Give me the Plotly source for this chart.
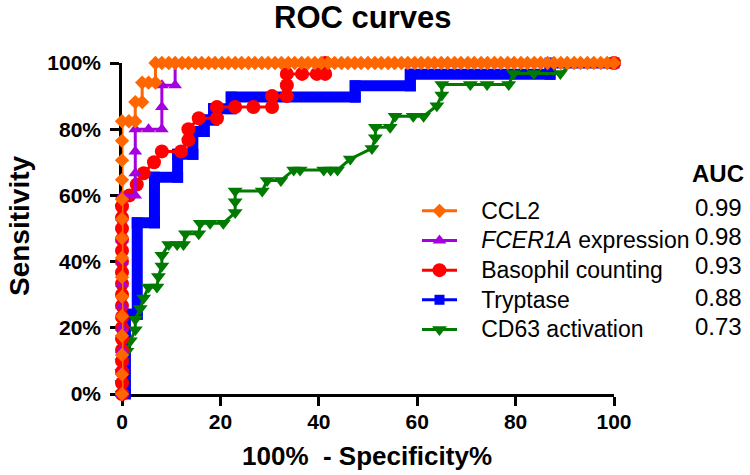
import plotly.graph_objects as go

# ---------------- data ----------------
series_names = ["CCL2", "<i>FCER1A</i> expression", "Basophil counting", "Tryptase", "CD63 activation"]
auc_values = ["0.99", "0.98", "0.93", "0.88", "0.73"]

x_tick_vals = [0, 20, 40, 60, 80, 100]
y_tick_vals = [0, 20, 40, 60, 80, 100]
y_tick_text = ["0%", "20%", "40%", "60%", "80%", "100%"]

ccl2_x = [0, 0, 0, 0, 0, 0, 0, 0, 0, 0, 0, 0, 0, 0, 0, 1.4, 2.7, 2.7, 4.1, 4.1, 5.4, 6.8, 6.8,
          8.1, 9.5, 10.8, 12.2, 13.5, 14.9, 16.2, 17.6, 18.9, 20.3, 21.6, 23.0, 24.3, 25.7, 27.0,
          28.4, 29.7, 31.1, 32.4, 33.8, 35.1, 36.5, 37.8, 39.2, 40.5, 41.9, 43.2, 44.6, 45.9, 47.3,
          48.6, 50.0, 51.4, 52.7, 54.1, 55.4, 56.8, 58.1, 59.5, 60.8, 62.2, 63.5, 64.9, 66.2, 67.6,
          68.9, 70.3, 71.6, 73.0, 74.3, 75.7, 77.0, 78.4, 79.7, 81.1, 82.4, 83.8, 85.1, 86.5, 87.8,
          89.2, 90.5, 91.9, 93.2, 94.6, 95.9, 97.3, 98.6, 100]
ccl2_y = [0, 5.9, 11.8, 17.6, 23.5, 29.4, 35.3, 41.2, 47.1, 52.9, 58.8, 64.7, 70.6, 76.5, 82.4,
          82.4, 82.4, 88.2, 88.2, 94.1, 94.1, 94.1, 100,
          100, 100, 100, 100, 100, 100, 100, 100, 100, 100, 100, 100, 100, 100, 100,
          100, 100, 100, 100, 100, 100, 100, 100, 100, 100, 100, 100, 100, 100, 100,
          100, 100, 100, 100, 100, 100, 100, 100, 100, 100, 100, 100, 100, 100, 100,
          100, 100, 100, 100, 100, 100, 100, 100, 100, 100, 100, 100, 100, 100, 100,
          100, 100, 100, 100, 100, 100, 100, 100, 100]

fcer1a_x = [0, 0, 0, 0, 0, 0, 0, 0, 0, 0, 2.7, 2.7, 2.7, 2.7, 5.4, 8.1, 8.1, 8.1, 10.8, 10.8,
            13.5, 16.2, 18.9, 21.6, 24.3, 27.0, 29.7, 32.4, 35.1, 37.8, 40.5, 43.2, 45.9, 48.6,
            51.4, 54.1, 56.8, 59.5, 62.2, 64.9, 67.6, 70.3, 73.0, 75.7, 78.4, 81.1, 83.8, 86.5,
            89.2, 91.9, 94.6, 97.3, 100]
fcer1a_y = [0, 6.7, 13.3, 20, 26.7, 33.3, 40, 46.7, 53.3, 60, 60, 66.7, 73.3, 80, 80, 80, 86.7,
            93.3, 93.3, 100,
            100, 100, 100, 100, 100, 100, 100, 100, 100, 100, 100, 100, 100, 100,
            100, 100, 100, 100, 100, 100, 100, 100, 100, 100, 100, 100, 100, 100,
            100, 100, 100, 100, 100]

baso_x = [0, 0, 0, 0, 0, 0, 0, 0, 0, 0, 0, 0, 0, 0, 0, 0, 0, 0,
          1.5, 3.0, 4.4, 6.5, 8.1, 12.0, 13.5, 13.5, 15.6, 19.3, 19.3, 23.0, 26.7, 30.5, 30.5,
          33.5, 33.5, 33.5, 36.6, 39.6, 41.3, 41.3, 100]
baso_y = [0, 3.3, 6.7, 10, 13.3, 16.7, 20, 23.3, 26.7, 30, 33.3, 36.7, 40, 43.3, 46.7, 50, 53.3, 56.7,
          60, 63.3, 66.7, 70, 73.3, 73.3, 76.7, 80, 83.3, 83.3, 86.7, 86.7, 86.7, 86.7, 90,
          90, 93.3, 96.7, 96.7, 96.7, 96.7, 100, 100]

tryp_x = [0.7, 0.7, 3.1, 3.1, 6.6, 6.6, 11.3, 11.3, 14.4, 14.4, 16.7, 16.7, 18.6, 18.6, 22.2, 22.2,
          47.4, 47.4, 58.6, 58.6, 87, 87, 100]
tryp_y = [0, 24.1, 24.1, 51.7, 51.7, 65.5, 65.5, 72.4, 72.4, 79.3, 79.3, 82.8, 82.8, 86.2, 86.2, 89.7,
          89.7, 93.1, 93.1, 96.6, 96.6, 100, 100]

cd63_x = [0, 0, 0, 0, 1.0, 1.7, 2.7, 2.7, 3.7, 4.4, 5.4, 7.1, 7.4, 8.1, 8.1, 9.5, 11.2, 12.5, 12.9,
          15.6, 15.9, 17.9, 20.6, 23.0, 23.0, 23.0, 28.5, 29.5, 32.3, 34.9, 36.2, 41.0, 42.4, 43.8,
          46.4, 50.8, 51.5, 51.5, 54.5, 55.5, 59.2, 61.3, 64.0, 65.0, 65.0, 70.8, 74.2, 78.6, 79.6,
          83.7, 89.1, 91.8, 100]
cd63_y = [0, 3.2, 6.5, 9.7, 12.9, 16.1, 19.4, 22.6, 25.8, 29.0, 32.3, 32.3, 35.5, 38.7, 41.9, 45.2,
          45.2, 45.2, 48.4, 48.4, 51.6, 51.6, 51.6, 54.8, 58.1, 61.3, 61.3, 64.5, 64.5, 67.7, 67.7,
          67.7, 67.7, 67.7, 71.0, 74.2, 77.4, 80.6, 80.6, 83.9, 83.9, 83.9, 87.1, 90.3, 93.5, 93.5,
          93.5, 93.5, 96.8, 96.8, 96.8, 100, 100]

# ---------------- styles ----------------
FONT = "Arial, Liberation Sans, Helvetica, sans-serif"
C_ORANGE = "#FF6600"
C_PURPLE = "#A400E0"
C_RED = "#FF0000"
C_BLUE = "#0000FF"
C_GREEN = "#007A00"


def key_label(name):
    return '<span style="font-size:23px">\u00a0\u00a0\u00a0' + name + '</span>'


fig = go.Figure()

# Tryptase (thick stair band)
fig.add_trace(go.Scatter(x=tryp_x, y=tryp_y, mode="lines+markers", showlegend=False,
                         line=dict(color=C_BLUE, width=11),
                         marker=dict(symbol="square", size=11, color=C_BLUE, line=dict(width=0)),
                         cliponaxis=False))
# CD63
fig.add_trace(go.Scatter(x=cd63_x, y=cd63_y, mode="lines+markers", name=key_label(series_names[4]),
                         legendrank=5,
                         line=dict(color=C_GREEN, width=3),
                         marker=dict(symbol="triangle-down", size=13, color=C_GREEN, line=dict(width=0)),
                         cliponaxis=False))
# Basophil
fig.add_trace(go.Scatter(x=baso_x, y=baso_y, mode="lines+markers", name=key_label(series_names[2]),
                         legendrank=3,
                         line=dict(color=C_RED, width=3),
                         marker=dict(symbol="circle", size=14, color=C_RED, line=dict(width=0)),
                         cliponaxis=False))
# FCER1A
fig.add_trace(go.Scatter(x=fcer1a_x, y=fcer1a_y, mode="lines+markers", name=key_label(series_names[1]),
                         legendrank=2,
                         line=dict(color=C_PURPLE, width=3),
                         marker=dict(symbol="triangle-up", size=12, color=C_PURPLE, line=dict(width=0)),
                         cliponaxis=False))
# CCL2
fig.add_trace(go.Scatter(x=ccl2_x, y=ccl2_y, mode="lines+markers", name=key_label(series_names[0]),
                         legendrank=1,
                         line=dict(color=C_ORANGE, width=3),
                         marker=dict(symbol="diamond", size=11, color=C_ORANGE, line=dict(width=0)),
                         cliponaxis=False))
# legend entry for Tryptase (thin line like the reference key)
fig.add_trace(go.Scatter(x=[None], y=[None], mode="lines+markers", name=key_label(series_names[3]),
                         legendrank=4,
                         line=dict(color=C_BLUE, width=3),
                         marker=dict(symbol="square", size=10, color=C_BLUE, line=dict(width=0))))

W, H = 750, 475
L, R, T, B = 122, 136, 63, 81
plot_h = H - T - B
plot_w = W - L - R


def py(px):
    return (H - B - px) / plot_h


def pxx(px):
    return (px - L) / plot_w


axis_common = dict(
    showline=True, linecolor="black", linewidth=2.5,
    ticks="outside", ticklen=9, tickwidth=2.5, tickcolor="black",
    showgrid=False, zeroline=False, layer="below traces",
    tickfont=dict(family=FONT, size=21, color="black", weight="bold"),
)

fig.update_xaxes(range=[0, 100], tickvals=x_tick_vals, ticklabelstandoff=-2, **axis_common)
fig.update_yaxes(range=[0, 100], tickvals=y_tick_vals, ticktext=y_tick_text, ticklabelstandoff=5,
                 **axis_common)

annotations = [
    dict(text="ROC curves", x=pxx(362), y=py(18), xref="paper", yref="paper",
         showarrow=False, xanchor="center", yanchor="middle",
         font=dict(family=FONT, size=31, color="black", weight="bold")),
    dict(text="100%  - Specificity%", x=pxx(367), y=py(456), xref="paper", yref="paper",
         showarrow=False, xanchor="center", yanchor="middle",
         font=dict(family=FONT, size=26, color="black", weight="bold")),
    dict(text="Sensitivity", x=pxx(19), y=py(226), xref="paper", yref="paper",
         showarrow=False, xanchor="center", yanchor="middle", textangle=-90,
         font=dict(family=FONT, size=28, color="black", weight="bold")),
    dict(text="AUC", x=pxx(746), y=py(173), xref="paper", yref="paper",
         showarrow=False, xanchor="right", yanchor="middle",
         font=dict(family=FONT, size=24, color="black", weight="bold")),
]
row_px = [207, 236.5, 265.5, 297, 326]
for val, rp in zip(auc_values, row_px):
    annotations.append(dict(text=val, x=pxx(744), y=py(rp), xref="paper", yref="paper",
                            showarrow=False, xanchor="right", yanchor="middle",
                            font=dict(family=FONT, size=24, color="black")))

fig.update_layout(
    width=W, height=H,
    margin=dict(l=L, r=R, t=T, b=B, pad=0),
    paper_bgcolor="white", plot_bgcolor="white",
    showlegend=True,
    legend=dict(x=pxx(417), y=py(191), xanchor="left", yanchor="top",
                bgcolor="rgba(0,0,0,0)", borderwidth=0, tracegroupgap=0, itemwidth=35,
                font=dict(family=FONT, size=20.5, color="black")),
    annotations=annotations,
)

fig.write_html("out.html", config={"displayModeBar": False},
               post_script="document.body.style.margin='0px';")
